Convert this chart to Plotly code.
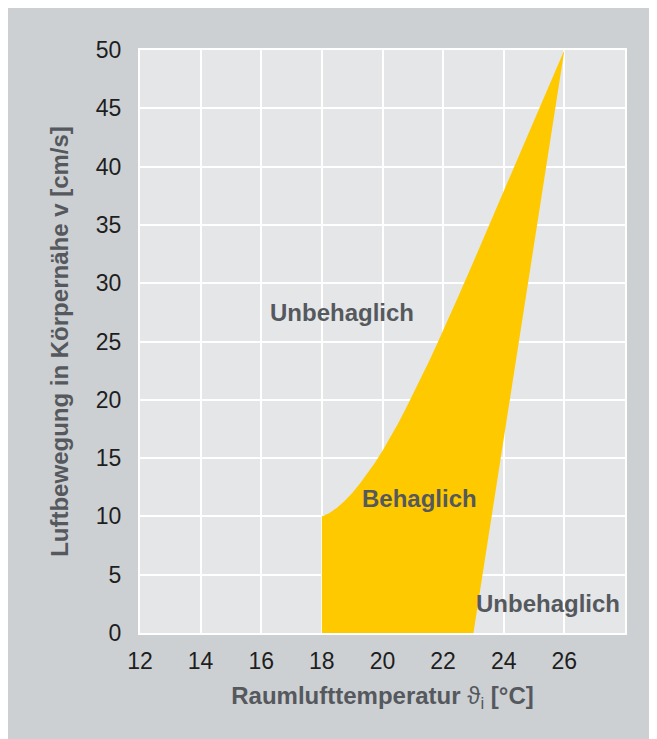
import plotly.graph_objects as go

# --- data ---
x_ticks = [12, 14, 16, 18, 20, 22, 24, 26]
y_ticks = [0, 5, 10, 15, 20, 25, 30, 35, 40, 45, 50]

# lower-left edge of the comfort zone (vertical at 18 °C)
left_edge_t = [18, 18]
left_edge_v = [0, 10]
# upper-left curved boundary
curve_t = [18.0, 18.25, 18.5, 18.75, 19.0, 19.25, 19.5, 19.75, 20.0, 20.25, 20.5, 20.75,
           21.0, 21.25, 21.5, 21.75, 22.0, 22.5, 23.0, 23.5, 24.0, 24.5, 25.0, 25.5, 26.0]
curve_v = [10.0, 10.3, 10.75, 11.33, 12.01, 12.79, 13.65, 14.6, 15.63, 16.73, 17.9, 19.14,
           20.43, 21.75, 23.11, 24.51, 25.94, 28.86, 31.84, 34.86, 37.91, 40.96, 43.99, 46.99, 50.0]
# right straight boundary
right_t = [26, 23]
right_v = [50, 0]

labels = ["Unbehaglich", "Behaglich", "Unbehaglich"]
label_t = [18.67, 21.22, 25.45]
label_v = [27.45, 11.55, 2.5]

zone_t = left_edge_t + curve_t[1:] + right_t[1:] + [left_edge_t[0]]
zone_v = left_edge_v + curve_v[1:] + right_v[1:] + [left_edge_v[0]]

BG_OUT = "#cdd0d3"
BG_PLOT = "#e5e6e8"
YELLOW = "#ffc900"
TXT_GRAY = "#55595d"
FONT = "Liberation Sans, Arial, Helvetica, sans-serif"

fig = go.Figure()
fig.add_trace(go.Scatter(
    x=zone_t, y=zone_v, mode="lines", fill="toself",
    fillcolor=YELLOW, line=dict(width=0, color=YELLOW),
    hoverinfo="skip", showlegend=False,
))

for txt, t, v in zip(labels, label_t, label_v):
    fig.add_annotation(x=t, y=v, text=f"<b>{txt}</b>", showarrow=False,
                       xref="x", yref="y", xanchor="center", yanchor="middle",
                       font=dict(family=FONT, size=24, color=TXT_GRAY))

axis_common = dict(
    showgrid=True, gridcolor="white", gridwidth=1.5,
    showline=True, linecolor="white", linewidth=2, mirror=True,
    zeroline=False, ticks="outside", tickcolor="rgba(0,0,0,0)",
    tickfont=dict(family=FONT, size=23, color="#1e1e1e"),
    automargin=False,
)

fig.update_xaxes(range=[12, 28], tickvals=x_ticks, ticklen=6,
                 title=dict(text="<b>Raumlufttemperatur</b> ϑ<sub>i</sub> <b>[°C]</b>",
                            font=dict(family=FONT, size=24, color=TXT_GRAY), standoff=15),
                 **axis_common)
fig.update_yaxes(range=[0, 50], tickvals=y_ticks, ticklen=12,
                 title=dict(text="<b>Luftbewegung in Körpernähe v [cm/s]</b>",
                            font=dict(family=FONT, size=24, color=TXT_GRAY), standoff=20),
                 **axis_common)

fig.update_layout(
    width=649, height=731,
    margin=dict(l=132, r=32, t=42, b=106),
    paper_bgcolor=BG_OUT, plot_bgcolor=BG_PLOT,
    font=dict(family=FONT),
    showlegend=False,
)

fig.write_html("out.html")
